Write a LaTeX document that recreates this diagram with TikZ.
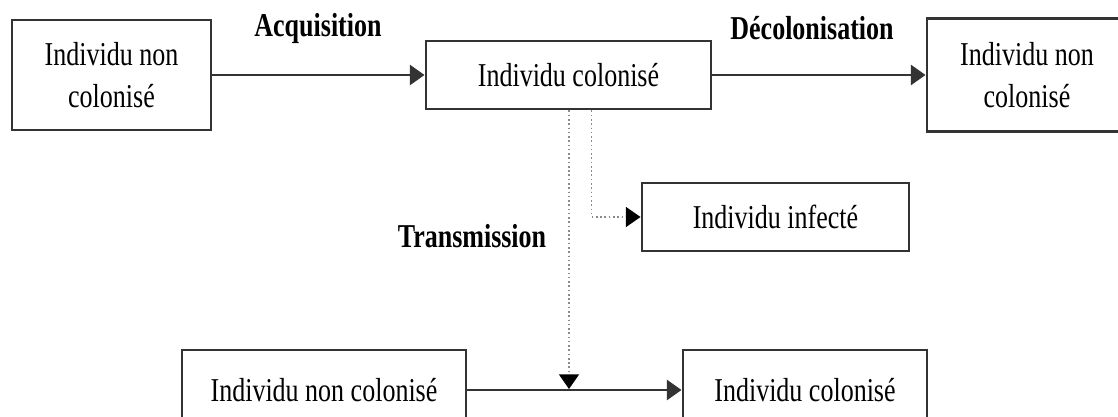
\documentclass[tikz,border=0pt]{standalone}
\usepackage{fontspec}
\setmainfont{Liberation Serif}[FakeStretch=0.78]
\usetikzlibrary{arrows.meta}
\definecolor{linegray}{HTML}{333333}
\definecolor{dotgray}{HTML}{8A8A8A}
\tikzset{
  box/.style={draw=linegray, line width=2.2pt, fill=white, align=center,
    font=\fontsize{25pt}{32pt}\selectfont, inner sep=0pt},
  lab/.style={font=\fontsize{25pt}{30pt}\selectfont\bfseries},
  conn/.style={draw=linegray, line width=2pt,
    -{Triangle[length=11pt,width=15pt]}},
  dotconn/.style={draw=dotgray, line width=1.2pt, dotted,
    -{Triangle[length=11pt,width=15pt,color=black,fill=black]}}
}
\begin{document}
\begin{tikzpicture}[x=0.75pt,y=-0.75pt]
\useasboundingbox (0,0) rectangle (1118,417);
\clip (0,0) rectangle (1118,417);
\node[box, minimum width=149.25pt, minimum height=82.5pt] (b1) at (111.5,75) {Individu non\\colonisé};
\node[box, minimum width=213.75pt, minimum height=51pt] (b2) at (568.5,75) {Individu colonisé};
\node[box, minimum width=150pt, minimum height=84.75pt] (b3) at (1027,75) {Individu non\\colonisé};
\node[box, minimum width=200.25pt, minimum height=51pt] (b4) at (775.5,217) {Individu infecté};
\node[box, minimum width=213pt, minimum height=60pt] (b5) at (324,390) {Individu non colonisé};
\node[box, minimum width=183pt, minimum height=60pt] (b6) at (805,390) {Individu colonisé};
\node[lab] (l1) at (318,28) {Acquisition};
\node[lab] (l2) at (812,28) {Décolonisation};
\node[lab] (l3) at (472,236) {Transmission};
\draw[conn] (b1) -- (b2);
\draw[conn] (b2) -- (b3);
\draw[conn] (b5) -- (b6);
\coordinate (tp) at (569,389);
\draw[dotconn] (b2.south -| tp) -- (tp);
\draw[dotconn] ([xshift=17.25pt]b2.south) |- (b4.west);
\end{tikzpicture}
\end{document}
